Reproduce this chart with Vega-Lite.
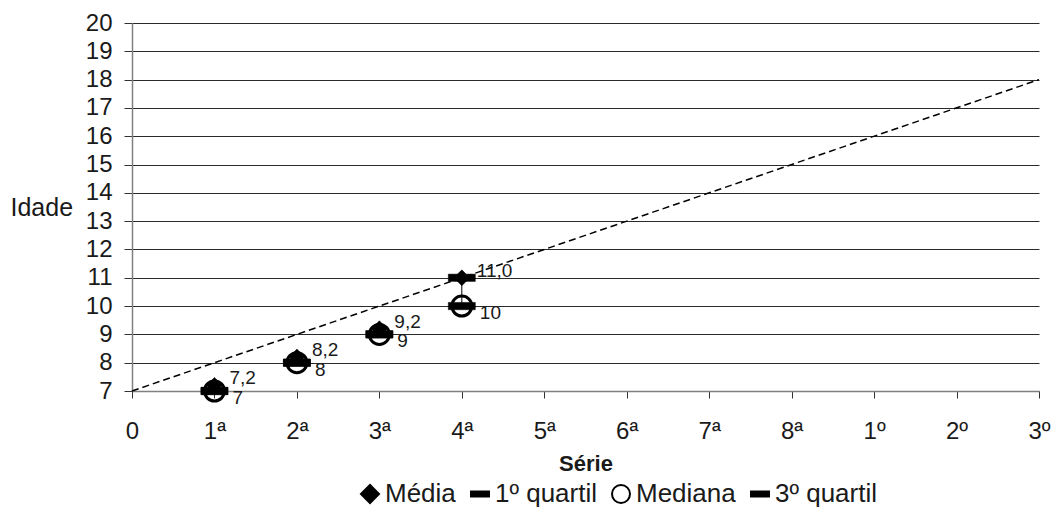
{
  "$schema": "https://vega.github.io/schema/vega-lite/v6.json",
  "width": 907,
  "height": 368,
  "autosize": {"type": "none"},
  "padding": {"left": 132, "top": 23, "right": 13, "bottom": 117},
  "background": "white",
  "datasets": {
    "ref": [
      {"x": 0, "idade": 7},
      {"x": 11, "idade": 18}
    ],
    "hilo": [
      {"x": 1, "idade": 7, "idade2": 7.2},
      {"x": 2, "idade": 8, "idade2": 8.2},
      {"x": 3, "idade": 9, "idade2": 9.2},
      {"x": 4, "idade": 10, "idade2": 11}
    ],
    "pontos": [
      {"serie": "Mediana", "x": 1, "idade": 7, "rotulo": "7"},
      {"serie": "Mediana", "x": 2, "idade": 8, "rotulo": "8"},
      {"serie": "Mediana", "x": 3, "idade": 9, "rotulo": "9"},
      {"serie": "Mediana", "x": 4, "idade": 10, "rotulo": "10"},
      {"serie": "1º quartil", "x": 1, "idade": 7, "rotulo": ""},
      {"serie": "1º quartil", "x": 2, "idade": 8, "rotulo": ""},
      {"serie": "1º quartil", "x": 3, "idade": 9, "rotulo": ""},
      {"serie": "1º quartil", "x": 4, "idade": 10, "rotulo": ""},
      {"serie": "3º quartil", "x": 1, "idade": 7, "rotulo": ""},
      {"serie": "3º quartil", "x": 2, "idade": 8, "rotulo": ""},
      {"serie": "3º quartil", "x": 3, "idade": 9, "rotulo": ""},
      {"serie": "3º quartil", "x": 4, "idade": 11, "rotulo": ""},
      {"serie": "Média", "x": 1, "idade": 7.2, "rotulo": "7,2"},
      {"serie": "Média", "x": 2, "idade": 8.2, "rotulo": "8,2"},
      {"serie": "Média", "x": 3, "idade": 9.2, "rotulo": "9,2"},
      {"serie": "Média", "x": 4, "idade": 11.0, "rotulo": "11,0"}
    ]
  },
  "encoding": {
    "x": {
      "field": "x", "type": "quantitative",
      "scale": {"domain": [0, 11], "nice": false, "zero": false},
      "axis": {
        "tickCount": 11,
        "labelExpr": "['0','1ª','2ª','3ª','4ª','5ª','6ª','7ª','8ª','1º','2º','3º'][datum.value]",
        "grid": false,
        "title": "Série",
        "titleFontWeight": "bold",
        "titleFontSize": 22,
        "titleY": 62,
        "titleBaseline": "top",
        "titleColor": "#1a1a1a",
        "labelFontSize": 24,
        "labelColor": "#1a1a1a",
        "labelPadding": 21,
        "tickSize": 7,
        "tickColor": "#333333",
        "domainColor": "#808080",
        "domainWidth": 1.5,
        "labelFlush": false,
        "labelOverlap": false
      }
    },
    "y": {
      "field": "idade", "type": "quantitative",
      "scale": {"domain": [7, 20], "nice": false, "zero": false},
      "axis": {
        "tickCount": 13,
        "tickMinStep": 1,
        "grid": true,
        "gridColor": "#2a2a2a",
        "gridWidth": 1,
        "title": "Idade",
        "titleAngle": 0,
        "titleAlign": "left",
        "titleBaseline": "middle",
        "titleX": -122,
        "titleY": 184,
        "titleFontWeight": "normal",
        "titleFontSize": 25,
        "titleColor": "#1a1a1a",
        "labelFontSize": 24,
        "labelColor": "#1a1a1a",
        "labelPadding": 12,
        "tickSize": 8,
        "tickColor": "#333333",
        "domainColor": "#808080",
        "domainWidth": 1.5,
        "labelOverlap": false,
        "labelFlush": false
      }
    },
    "shape": {
      "field": "serie", "type": "nominal",
      "scale": {
        "domain": ["Média", "1º quartil", "Mediana", "3º quartil"],
        "range": ["diamond", "M-1,-0.27H1V0.27H-1Z", "circle", "M-1,-0.27H1V0.27H-1Z"]
      },
      "legend": {
        "orient": "none",
        "legendX": 225,
        "legendY": 458,
        "direction": "horizontal",
        "title": null,
        "labelFontSize": 26,
        "labelColor": "#1a1a1a",
        "symbolSize": 324,
        "symbolStrokeWidth": 2,
        "labelOffset": 2,
        "columnPadding": 11
      }
    },
    "fill": {
      "field": "serie", "type": "nominal",
      "scale": {
        "domain": ["Média", "1º quartil", "Mediana", "3º quartil"],
        "range": ["black", "black", "transparent", "black"]
      },
      "legend": {
        "orient": "none",
        "legendX": 225,
        "legendY": 458,
        "direction": "horizontal",
        "title": null,
        "labelFontSize": 26,
        "labelColor": "#1a1a1a",
        "symbolSize": 324,
        "symbolStrokeWidth": 2,
        "labelOffset": 2,
        "columnPadding": 11
      }
    },
    "stroke": {
      "field": "serie", "type": "nominal",
      "scale": {
        "domain": ["Média", "1º quartil", "Mediana", "3º quartil"],
        "range": ["black", "black", "black", "black"]
      },
      "legend": {
        "orient": "none",
        "legendX": 225,
        "legendY": 458,
        "direction": "horizontal",
        "title": null,
        "labelFontSize": 26,
        "labelColor": "#1a1a1a",
        "symbolSize": 324,
        "symbolStrokeWidth": 2,
        "labelOffset": 2,
        "columnPadding": 11
      }
    }
  },
  "layer": [
    {
      "data": {"name": "ref"},
      "mark": {"type": "line", "color": "black", "strokeWidth": 1.5, "strokeDash": [7, 4]},
      "encoding": {"shape": null, "fill": null, "stroke": null}
    },
    {
      "data": {"name": "hilo"},
      "mark": {"type": "rule", "color": "black", "strokeWidth": 1},
      "encoding": {
        "y2": {"field": "idade2"},
        "shape": null, "fill": null, "stroke": null
      }
    },
    {
      "data": {"name": "pontos"},
      "transform": [{"filter": "datum.serie === 'Mediana'"}],
      "mark": {"type": "point", "opacity": 1, "size": 400, "strokeWidth": 3}
    },
    {
      "data": {"name": "pontos"},
      "transform": [{"filter": "datum.serie === '1º quartil' || datum.serie === '3º quartil'"}],
      "mark": {"type": "point", "opacity": 1, "size": 729, "strokeWidth": 0.5}
    },
    {
      "data": {"name": "pontos"},
      "transform": [{"filter": "datum.serie === 'Média'"}],
      "mark": {"type": "point", "opacity": 1, "size": 250, "strokeWidth": 0.5}
    },
    {
      "data": {"name": "pontos"},
      "transform": [{"filter": "datum.serie === 'Média'"}],
      "mark": {"type": "text", "align": "left", "baseline": "middle", "dx": 15, "dy": -7, "fontSize": 19, "color": "#1a1a1a"},
      "encoding": {
        "text": {"field": "rotulo"},
        "shape": null, "fill": null, "stroke": null
      }
    },
    {
      "data": {"name": "pontos"},
      "transform": [{"filter": "datum.serie === 'Mediana'"}],
      "mark": {"type": "text", "align": "left", "baseline": "middle", "dx": 18, "dy": 7, "fontSize": 19, "color": "#1a1a1a"},
      "encoding": {
        "text": {"field": "rotulo"},
        "shape": null, "fill": null, "stroke": null
      }
    }
  ],
  "config": {
    "font": "Liberation Sans",
    "view": {"stroke": null}
  }
}
